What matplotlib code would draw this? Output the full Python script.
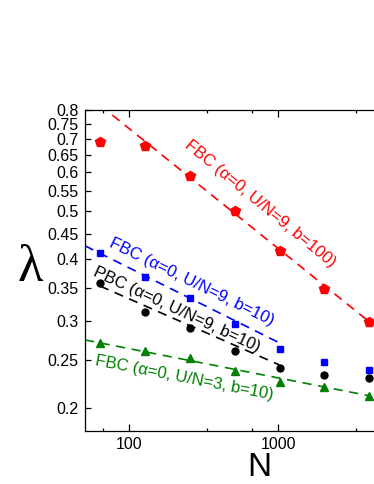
import matplotlib
matplotlib.use("Agg")
import matplotlib.pyplot as plt
from matplotlib.ticker import FixedLocator, NullFormatter

plt.rcParams['font.family'] = ['Liberation Sans', 'DejaVu Sans']

# system sizes
N = [64, 128, 256, 512, 1024, 2048, 4096]

# lambda values
fbc_b100 = [0.689, 0.678, 0.590, 0.501, 0.415, 0.348, 0.299]
fbc_b10 = [0.412, 0.368, 0.334, 0.2955, 0.2635, 0.248, 0.239]
pbc_b10 = [0.3575, 0.313, 0.291, 0.261, 0.2415, 0.234, 0.230]
fbc_u3 = [0.2705, 0.261, 0.2525, 0.238, 0.2265, 0.221, 0.212]

# dashed fit lines (end points)
fit_b100_N = [64, 4096]
fit_b100 = [0.818, 0.299]
fit_b10_N = [50.7, 1024]
fit_b10 = [0.4256, 0.271]
fit_pbc_N = [64, 1024]
fit_pbc = [0.353, 0.2446]
fit_u3_N = [50.7, 4096]
fit_u3 = [0.2748, 0.212]

ytick_vals = [0.2, 0.25, 0.3, 0.35, 0.4, 0.45, 0.5, 0.55, 0.6, 0.65, 0.7, 0.75, 0.8]
ytick_labels = ['0.2', '0.25', '0.3', '0.35', '0.4', '0.45', '0.5', '0.55',
                '0.6', '0.65', '0.7', '0.75', '0.8']
xtick_vals = [100, 1000]
xtick_labels = ['100', '1000']
xminor_vals = [66.7, 333.3, 666.7, 3333.3]

RED = '#ff0000'
BLUE = '#0000ff'
GREEN = '#008000'

fig = plt.figure(figsize=(3.74, 4.84), dpi=100)
ax = fig.add_axes([85/374, 53/484, 289/374, 321/484])
ax.set_xscale('log')
ax.set_yscale('log')

dash = (0, (5.5, 4))
ax.plot(fit_b100_N, fit_b100, color=RED, lw=1.2, ls=dash)
ax.plot(fit_b10_N, fit_b10, color=BLUE, lw=1.2, ls=dash)
ax.plot(fit_pbc_N, fit_pbc, color='black', lw=1.2, ls=dash)
ax.plot(fit_u3_N, fit_u3, color=GREEN, lw=1.2, ls=dash)

ax.plot(N, fbc_b100, 'p', color=RED, ms=7, mec=RED)
ax.plot(N, fbc_b10, 's', color=BLUE, ms=5, mec=BLUE)
ax.plot(N, pbc_b10, 'o', color='black', ms=5, mec='black')
ax.plot(N, fbc_u3, '^', color=GREEN, ms=5.5, mec=GREEN)

ax.set_xlim(50.7, 4405)
ax.set_ylim(0.18, 0.8)

ax.xaxis.set_major_locator(FixedLocator(xtick_vals))
ax.set_xticklabels(xtick_labels)
ax.xaxis.set_minor_locator(FixedLocator(xminor_vals))
ax.xaxis.set_minor_formatter(NullFormatter())
ax.yaxis.set_major_locator(FixedLocator(ytick_vals))
ax.set_yticklabels(ytick_labels)
ax.yaxis.set_minor_locator(FixedLocator([]))

ax.tick_params(axis='x', which='major', direction='in', length=5, width=0.9,
               top=True, labelsize=11.5, pad=4.5)
ax.tick_params(axis='x', which='minor', direction='in', length=2.5, width=0.9,
               top=True)
ax.tick_params(axis='y', which='major', direction='in', length=4.5, width=0.9,
               labelsize=11.5, pad=4.5)
ax.spines['right'].set_visible(False)
for s in ['left', 'top', 'bottom']:
    ax.spines[s].set_linewidth(0.9)

tkw = dict(fontsize=12, ha='center', va='center', rotation_mode='anchor')
ax.text(757, 0.517, u'FBC (\u03b1=0, U/N=9, b=100)', color=RED, rotation=-39.5, **tkw)
ax.text(265, 0.360, u'FBC (\u03b1=0, U/N=9, b=10)', color=BLUE, rotation=-26, **tkw)
ax.text(208, 0.3157, u'PBC (\u03b1=0, U/N=9, b=10)', color='black', rotation=-25, **tkw)
ax.text(234, 0.230, u'FBC (\u03b1=0, U/N=3, b=10)', color=GREEN, rotation=-11, **tkw)

fig.text(259/374, 1 - 467/484, 'N', fontsize=24, ha='center', va='center')
fig.text(30/374, 1 - 268/484, u'\u03bb', fontsize=38, ha='center', va='center',
         family=['Liberation Serif', 'DejaVu Serif'])

fig.savefig('out.png', dpi=100)
